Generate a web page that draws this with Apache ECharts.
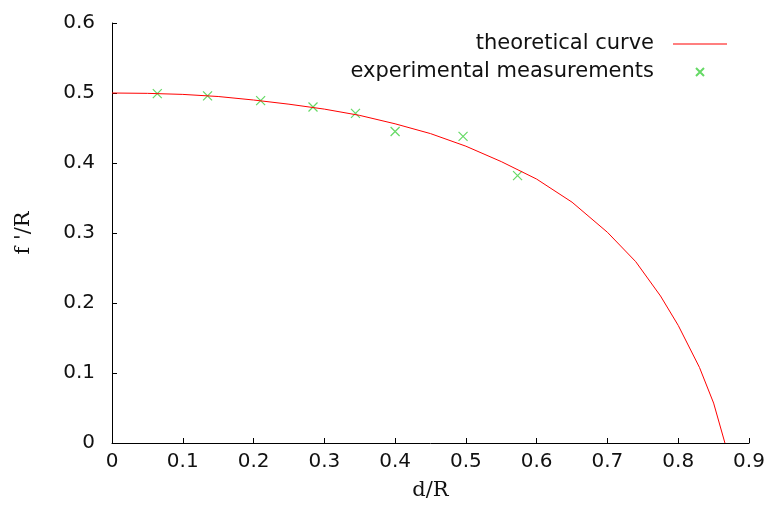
<!DOCTYPE html>
<html>
<head>
<meta charset="utf-8">
<script src="https://cdn.jsdelivr.net/npm/echarts@6/dist/echarts.min.js"></script>
<style>
  html, body { margin: 0; padding: 0; background: #fff; }
  #chart { width: 768px; height: 506px; }
</style>
</head>
<body>
<div id="chart"></div>
<script>
// 理论曲线 (d/R, f'/R)
var curveX = [0, 0.05, 0.1, 0.15, 0.2, 0.25, 0.3, 0.35, 0.4, 0.45, 0.5, 0.55, 0.6, 0.65, 0.7, 0.74, 0.775, 0.8, 0.83, 0.85, 0.866];
var curveY = [0.500, 0.4995, 0.498, 0.495, 0.490, 0.484, 0.477, 0.468, 0.456, 0.442, 0.424, 0.402, 0.377, 0.344, 0.301, 0.259, 0.210, 0.168, 0.108, 0.057, 0.0];

// 实验测量点
var measX = [0.064, 0.135, 0.210, 0.284, 0.344, 0.400, 0.496, 0.573];
var measY = [0.499, 0.496, 0.489, 0.480, 0.471, 0.445, 0.438, 0.382];

var xTicks = [0, 0.1, 0.2, 0.3, 0.4, 0.5, 0.6, 0.7, 0.8, 0.9];
var yTicks = [0, 0.1, 0.2, 0.3, 0.4, 0.5, 0.6];

(function() {
  var myChart = echarts.init(document.getElementById("chart"));

  var curveData = curveX.map(function(x, i) { return [x, curveY[i]]; });
  var measData = measX.map(function(x, i) { return [x, measY[i]]; });

  var cross = "path://M0,0L10,10M10,0L0,10";

  var option = {
    backgroundColor: "#fff",
    animation: false,
    grid: {
      left: 112,
      top: 23,
      width: 637,
      height: 425
    },
    legend: {
      orient: "vertical",
      align: "right",
      right: 36,
      top: 28,
      itemWidth: 54,
      itemHeight: 8,
      itemGap: 6,
      textStyle: {
        fontFamily: "DejaVu Sans",
        fontSize: 21,
        color: "#111",
        lineHeight: 22,
        padding: [0, 14, 0, 0]
      },
      data: [
        { name: "theoretical curve", icon: "path://M0,0H54V1H0Z" },
        { name: "experimental measurements" }
      ]
    },
    xAxis: {
      type: "value",
      min: 0,
      max: 0.9,
      interval: 0.1,
      name: "d/R",
      nameLocation: "middle",
      nameGap: 37,
      nameTextStyle: {
        fontFamily: "DejaVu Serif",
        fontSize: 21,
        color: "#111"
      },
      axisLine: { show: true, lineStyle: { color: "#000", width: 1 } },
      axisTick: { show: true, inside: true, length: 5, lineStyle: { color: "#000" } },
      axisLabel: {
        fontFamily: "DejaVu Sans",
        fontSize: 20,
        color: "#111",
        margin: 9,
        formatter: function(v) { return xTicks.indexOf(+v.toFixed(1)) >= 0 ? (+v.toFixed(1)).toString() : ""; }
      },
      splitLine: { show: false }
    },
    yAxis: {
      type: "value",
      min: 0,
      max: 0.6,
      interval: 0.1,
      name: "f '/R",
      nameLocation: "middle",
      nameGap: 78,
      nameRotate: 90,
      nameTextStyle: {
        fontFamily: "DejaVu Serif",
        fontSize: 21,
        color: "#111"
      },
      axisLine: { show: true, lineStyle: { color: "#000", width: 1 } },
      axisTick: { show: true, inside: true, length: 5, lineStyle: { color: "#000" } },
      axisLabel: {
        fontFamily: "DejaVu Sans",
        fontSize: 20,
        color: "#111",
        margin: 17,
        formatter: function(v) { return yTicks.indexOf(+v.toFixed(1)) >= 0 ? (+v.toFixed(1)).toString() : ""; }
      },
      splitLine: { show: false }
    },
    series: [
      {
        name: "theoretical curve",
        type: "line",
        symbol: "none",
        smooth: false,
        data: curveData,
        lineStyle: { color: "#ff0000", width: 1 },
        itemStyle: { color: "#ff0000" }
      },
      {
        name: "experimental measurements",
        type: "scatter",
        symbol: cross,
        symbolSize: 9,
        data: measData,
        itemStyle: { color: "#3fcf3f", borderColor: "#3fcf3f", borderWidth: 1.2 }
      }
    ]
  };

  myChart.setOption(option);
  window.addEventListener("resize", function() {
    myChart.resize();
  });
})();
</script>
</body>
</html>
